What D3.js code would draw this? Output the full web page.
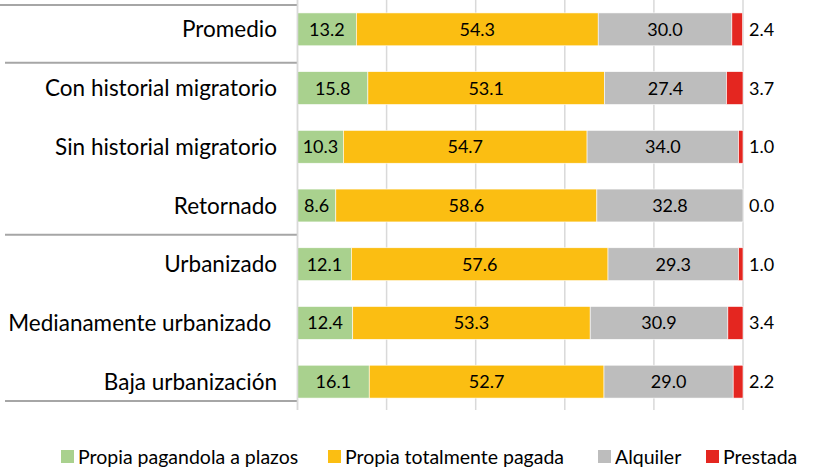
<!DOCTYPE html>
<html>
<head>
<meta charset="utf-8">
<script src="https://cdn.jsdelivr.net/npm/d3@7"></script>
<style>
  body { margin: 0; background: #fff; }
  text { font-family: Lato, 'Open Sans', sans-serif; fill: #000; }
</style>
</head>
<body>
<div id="chart"></div>
<script>
var categories = ['Promedio', 'Con historial migratorio', 'Sin historial migratorio', 'Retornado',
    'Urbanizado', 'Medianamente urbanizado ', 'Baja urbanización'];
var seriesNames = ['Propia pagandola a plazos', 'Propia totalmente pagada', 'Alquiler', 'Prestada'];
var plazos   = [13.2, 15.8, 10.3, 8.6, 12.1, 12.4, 16.1];
var pagada   = [54.3, 53.1, 54.7, 58.6, 57.6, 53.3, 52.7];
var alquiler = [30.0, 27.4, 34.0, 32.8, 29.3, 30.9, 29.0];
var prestada = [2.4, 3.7, 1.0, 0.0, 1.0, 3.4, 2.2];
var xTicks = [0, 20, 40, 60, 80, 100];
var colors = ['#a9d18e', '#fbbe12', '#bdbdbd', '#e42620'];

var _width = 829, _height = 470;
var svg = d3.select('#chart').append('svg')
    .attr('width', _width)
    .attr('height', _height);

var rows = categories.map(function (c, i) {
    return { cat: c, v: [plazos[i], pagada[i], alquiler[i], prestada[i]] };
});

var x = d3.scaleLinear().domain([0, 100]).range([297.5, 743]);
var y = d3.scaleBand().domain(categories).range([0, 411]).paddingInner(0.44).paddingOuter(0.22);
var bw = y.bandwidth();

// gridlines
svg.append('g').selectAll('line').data(xTicks).join('line')
    .attr('x1', function (d) { return x(d); })
    .attr('x2', function (d) { return x(d); })
    .attr('y1', 0).attr('y2', 410)
    .style('stroke', '#d9d9d9')
    .style('stroke-width', 1.5);

// separator lines on the left
var sepY = [
    y(categories[0]) - 8,
    y(categories[1]) - 9,
    (y(categories[3]) + bw + y(categories[4])) / 2,
    y(categories[6]) + bw + 3
];
svg.append('g').selectAll('line').data(sepY).join('line')
    .attr('x1', function (d, i) { return i === 0 ? 0 : 5; })
    .attr('x2', x(0))
    .attr('y1', function (d) { return d; })
    .attr('y2', function (d) { return d; })
    .style('stroke', '#a6a6a6')
    .style('stroke-width', 2);

// stacked bars
var stack = d3.stack().keys([0, 1, 2, 3]).value(function (d, k) { return d.v[k]; });
var layers = stack(rows);

var gBars = svg.append('g');
layers.forEach(function (layer, k) {
    gBars.append('g').selectAll('rect').data(layer).join('rect')
        .attr('x', function (d) { return x(d[0]); })
        .attr('width', function (d) { return x(d[1]) - x(d[0]); })
        .attr('y', function (d) { return y(d.data.cat); })
        .attr('height', bw)
        .style('fill', colors[k])
        .style('stroke', '#fff')
        .style('stroke-width', 0.6);
});

// value labels
layers.forEach(function (layer, k) {
    gBars.append('g').selectAll('text').data(layer).join('text')
        .attr('x', function (d) {
            if (k === 3) return x(100) + 6;
            return (x(d[0]) + x(d[1])) / 2;
        })
        .attr('y', function (d) { return y(d.data.cat) + bw / 2; })
        .attr('dy', '0.36em')
        .attr('text-anchor', k === 3 ? 'start' : 'middle')
        .attr('font-size', 18)
        .text(function (d) { return d.data.v[k].toFixed(1); });
});

// axis line
svg.append('line')
    .attr('x1', x(0)).attr('x2', x(0))
    .attr('y1', 0).attr('y2', 410)
    .style('stroke', '#d9d9d9')
    .style('stroke-width', 1.5);

// category labels
svg.append('g').selectAll('text').data(categories).join('text')
    .attr('x', 277)
    .attr('y', function (d) { return y(d) + bw / 2; })
    .attr('dy', '0.36em')
    .attr('text-anchor', 'end')
    .attr('font-size', 22.5)
    .style('white-space', 'pre')
    .text(function (d) { return d; });

// legend
var legendX = [61, 328, 598, 706];
var lg = svg.append('g').selectAll('g').data(seriesNames).join('g')
    .attr('transform', function (d, i) { return 'translate(' + legendX[i] + ',450)'; });
lg.append('rect')
    .attr('width', 13).attr('height', 13)
    .style('fill', function (d, i) { return colors[i]; });
lg.append('text')
    .attr('x', 17)
    .attr('y', 7)
    .attr('dy', '0.36em')
    .attr('font-size', 19.5)
    .text(function (d) { return d; });
</script>
</body>
</html>
